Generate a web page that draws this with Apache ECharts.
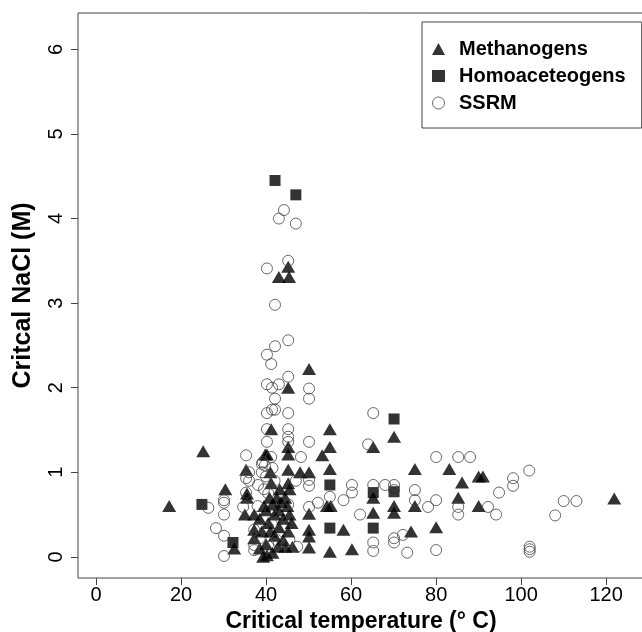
<!DOCTYPE html>
<html>
<head>
<meta charset="utf-8">
<script src="https://cdn.jsdelivr.net/npm/echarts@6/dist/echarts.min.js"></script>
<style>html,body{margin:0;padding:0;background:#fff;}#c{width:642px;height:632px;}</style>
</head>
<body>
<div id="c"></div>
<script>
const xTicks = [0, 20, 40, 60, 80, 100, 120];
const yTicks = [0, 1, 2, 3, 4, 5, 6];
const seriesNames = ['Methanogens', 'Homoaceteogens', 'SSRM'];

const methanogens = [
[17.2,0.6],[25.2,1.25],[30.4,0.8],[32.5,0.1],[35.3,1.03],[35.5,0.75],[35.5,0.7],[35,0.5],[37.2,0.5],[37.2,0.32],[37.2,0.22],
[39.8,1.21],[40.2,1.21],[41.2,1.51],[41.2,0.87],[39.3,0.0],[38.5,0.45],[39,0.3],[39.5,0.6],[40,0.55],[40.5,0.4],[40.8,0.7],
[41.5,0.62],[42,0.5],[42.5,0.7],[43,0.55],[43.5,0.65],[44,0.45],[44.5,0.7],[45,0.6],[45.5,0.5],[46,0.4],[41,0.3],[42,0.25],
[43,0.35],[44,0.2],[45.2,0.3],[40,0.15],[41.5,0.05],[38.5,0.1],[40.2,0.02],[45.5,0.8],[43.2,0.8],[41,1.0],[42.8,0.12],
[44.5,0.12],[46.2,0.12],
[43,3.31],[45.2,3.43],[45.4,3.31],[45.2,2.0],[50.1,2.22],
[45.2,1.3],[45.2,1.21],[45.2,1.03],[45.2,0.87],[48,1.0],[50.1,1.0],
[55,1.51],[55,1.3],[53.2,1.2],[55,1.04],[54.3,0.6],[55.2,0.6],[50.1,0.51],[50.1,0.32],[50.1,0.24],[50.1,0.11],[58.2,0.32],
[55,0.06],[60.2,0.09],
[65.2,1.3],[65.2,0.7],[65.2,0.52],[70.1,1.42],[70.1,0.6],[70.1,0.52],[74.1,0.3],[75,1.04],[75,0.6],[80,0.35],[83.1,1.04],
[86.1,0.88],[90,0.95],[91,0.95],[85.2,0.7],[90,0.6],[121.9,0.69]
];

const homoacetogens = [
[42.1,4.45],[47,4.28],[24.9,0.62],[32.2,0.17],[55,0.85],[55,0.34],[65.2,0.76],[65.2,0.34],[70.1,1.63],[70.1,0.77]
];

const ssrm = [
[44.2,4.1],[43,4.0],[47,3.94],[45.2,3.5],[40.2,3.41],[42.1,2.98],[45.2,2.56],[42.1,2.49],[40.2,2.39],[41.2,2.28],[45.2,2.13],
[50.1,1.99],[50.1,1.87],[40.2,2.04],[41.4,2.0],[43,2.04],[42.1,1.87],
[40.2,1.70],[42.1,1.74],[41.4,1.74],[45.2,1.70],[65.2,1.70],[40.2,1.51],[45.2,1.51],[64,1.33],[50.1,1.36],[40.2,1.36],[45.2,1.36],
[35.3,1.2],[41.2,1.18],[48.2,1.18],[38.1,0.85],[35.3,0.93],[39,1.1],[39.7,1.08],[39,1.0],[40,0.95],[50.1,0.91],[50.1,0.84],
[55,0.71],[60.2,0.85],[60.2,0.76],[58.2,0.67],[52.2,0.64],[50.1,0.59],[62.1,0.5],[65.2,0.85],[68,0.85],[70.1,0.85],[70.1,0.79],
[65.2,0.17],[65.2,0.07],[70.1,0.22],[70.1,0.17],[72.2,0.26],[73.2,0.05],[80,0.08],[75,0.79],[75,0.67],[80,1.18],[78.1,0.59],
[80,0.67],[85.2,1.18],[88,1.18],[85.2,0.59],[85.2,0.5],[92.2,0.59],[94.1,0.5],[94.8,0.76],[98.1,0.93],[98.1,0.84],[101.9,1.02],
[102,0.12],[102,0.09],[102,0.06],[108,0.49],[110,0.66],[113,0.66],
[26.4,0.58],[30.1,0.67],[30.1,0.64],[30.1,0.5],[28.2,0.34],[30.1,0.25],[30.1,0.01],[34.6,0.59],[35.3,0.76],[37.2,0.14],
[37.2,0.08],[37.2,0.32],[47.3,0.12],[43,0.15],[40.5,0.35],[38,0.6],[39.5,0.8],[36,0.9],[38.5,0.22],[40.5,0.75],[42,0.9],
[42.5,0.2],[45.5,0.2],[41,0.55],[43.5,0.45],[39.2,1.12],[41.5,1.05],[36,1.0],[45.2,0.62],[45.2,1.42],[47,0.9]
];

const FONT = '"Liberation Sans", Arial, sans-serif';
const chart = echarts.init(document.getElementById('c'), null, {renderer: 'canvas'});
chart.setOption({
  animation: false,
  backgroundColor: '#fff',
  grid: {
    left: 78, top: 13, width: 566, height: 565,
    containLabel: false, outerBoundsMode: 'none',
    show: true, borderColor: '#444', borderWidth: 1, backgroundColor: 'transparent'
  },
  xAxis: {
    type: 'value', min: -4.25, max: 128.9,
    name: 'Critical temperature (° C)', nameLocation: 'middle', nameGap: 24,
    nameTextStyle: {fontFamily: FONT, fontSize: 23, fontWeight: 'bold', color: '#000'},
    axisLine: {show: false, onZero: false},
    axisTick: {show: true, length: 7, lineStyle: {color: '#444'}, customValues: xTicks},
    axisLabel: {fontFamily: FONT, fontSize: 20, color: '#000', margin: 7, customValues: xTicks},
    splitLine: {show: false}
  },
  yAxis: {
    type: 'value', min: -0.25, max: 6.43,
    name: 'Critcal NaCl (M)', nameLocation: 'middle', nameGap: 42, nameRotate: 90,
    nameTextStyle: {fontFamily: FONT, fontSize: 25, fontWeight: 'bold', color: '#000'},
    axisLine: {show: false, onZero: false},
    axisTick: {show: true, length: 7, lineStyle: {color: '#444'}, customValues: yTicks},
    axisLabel: {fontFamily: FONT, fontSize: 20, color: '#000', margin: 12, rotate: 90, customValues: yTicks},
    splitLine: {show: false}
  },
  legend: {
    orient: 'vertical', left: 422, top: 22,
    padding: [17, 16, 15, 10], itemGap: 7,
    itemWidth: 13, itemHeight: 12,
    borderColor: '#444', borderWidth: 1, borderRadius: 0,
    textStyle: {fontFamily: FONT, fontSize: 20, fontWeight: 'bold', color: '#000', padding: [0, 0, 0, 9]},
    data: [
      {name: 'Methanogens', icon: 'triangle', itemStyle: {color: '#000', borderWidth: 0}},
      {name: 'Homoaceteogens', icon: 'rect', itemStyle: {color: '#000', borderWidth: 0}},
      {name: 'SSRM', icon: 'circle', itemStyle: {color: '#fff', borderColor: '#444', borderWidth: 1}}
    ]
  },
  series: [
    {name: seriesNames[2], type: 'scatter', data: ssrm, symbol: 'circle', symbolSize: 11,
     itemStyle: {color: 'rgba(0,0,0,0)', borderColor: '#444', borderWidth: 1}, z: 3},
    {name: seriesNames[0], type: 'scatter', data: methanogens, symbol: 'triangle', symbolSize: [14, 12],
     itemStyle: {color: '#000'}, z: 2},
    {name: seriesNames[1], type: 'scatter', data: homoacetogens, symbol: 'rect', symbolSize: 11,
     itemStyle: {color: '#000'}, z: 2}
  ]
});
</script>
</body>
</html>
